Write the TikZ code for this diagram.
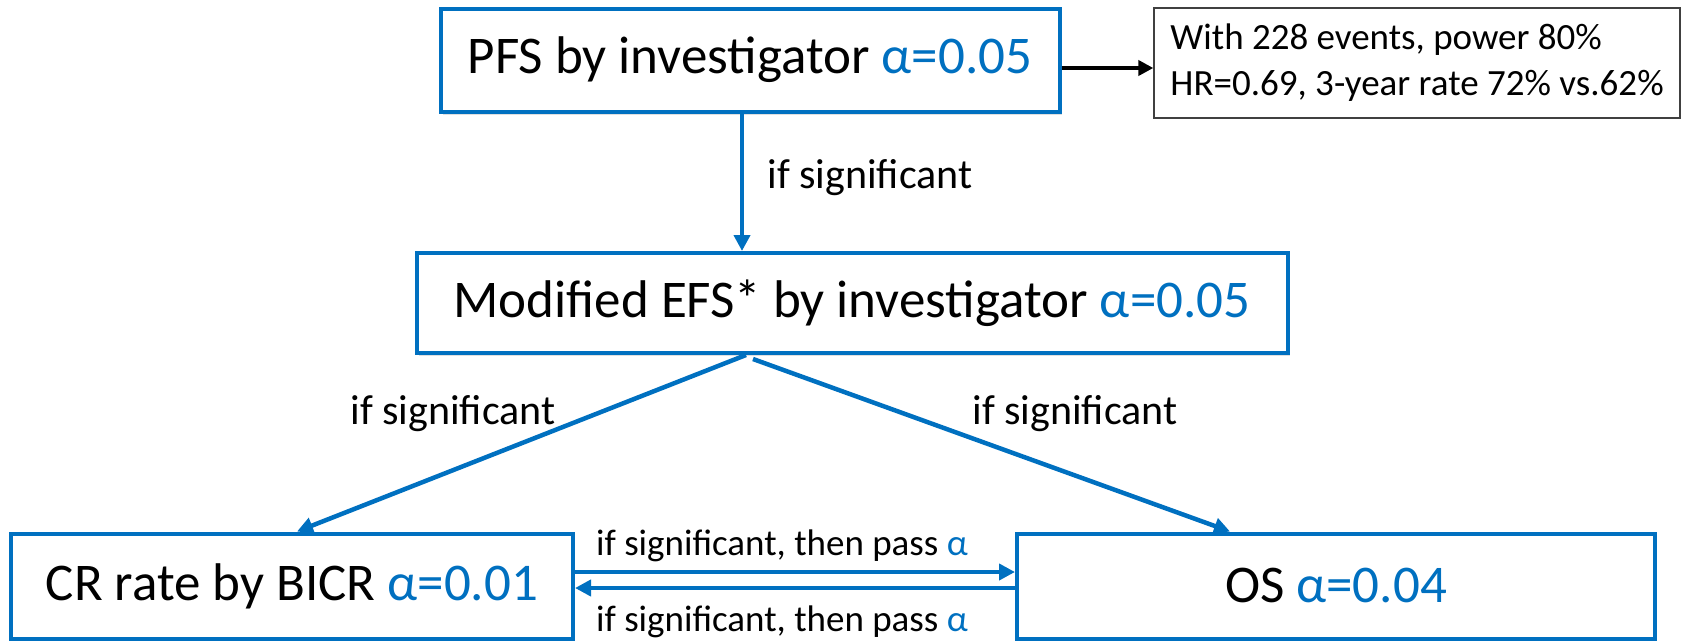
\documentclass[tikz,border=0pt]{standalone}
\usepackage{fontspec}
\setmainfont{Carlito}
\usetikzlibrary{arrows.meta,shadows}
\definecolor{ppblue}{HTML}{0070C0}
\newcommand{\alp}[1]{\textcolor{ppblue}{α=#1}}
\begin{document}
\begin{tikzpicture}[x=1pt,y=-1pt,
  bluebox/.style={draw=ppblue, line width=4pt, fill=white, inner sep=0pt,
    font=\fontsize{53}{62}\selectfont,
    drop shadow={opacity=0.25, shadow xshift=2pt, shadow yshift=-3pt}},
  bluearrow/.style={draw=ppblue, line width=4.5pt, -{Triangle[length=16pt,width=16pt]}},
  blackarrow/.style={draw=black, line width=4pt, -{Triangle[length=15pt,width=15pt]}},
  lbl/.style={font=\fontsize{42}{50}\selectfont, inner sep=0pt},
  passlbl/.style={font=\fontsize{37}{44}\selectfont, inner sep=0pt}]
\useasboundingbox (0,0) rectangle (1696,640);
% boxes
\node[bluebox, minimum width=619pt, minimum height=103pt] (pfs) at (750,60) {PFS by investigator \alp{0.05}};
\node[draw=black!75, line width=1.3pt, fill=white, inner sep=0pt, align=left,
  minimum width=526pt, minimum height=110pt,
  font=\fontsize{37}{46}\selectfont] (info) at (1417,63)
  {With 228 events, power 80\%\\HR=0.69, 3-year rate 72\% vs.62\%};
\node[bluebox, minimum width=871pt, minimum height=100pt] (efs) at (852,303) {Modified EFS* by investigator \alp{0.05}};
\node[bluebox, minimum width=562pt, minimum height=105pt] (cr) at (292,586) {CR rate by BICR \alp{0.01}};
\node[bluebox, minimum width=638pt, minimum height=105pt] (os) at (1336,586) {OS \alp{0.04}};
% connectors
\draw[blackarrow] ([yshift=-8pt]pfs.east) -- ([yshift=-8pt]pfs.east -| info.west);
\draw[bluearrow] ([xshift=-8pt]pfs.south) -- ([xshift=-8pt]pfs.south |- efs.north);
\coordinate (splitl) at ([xshift=-106pt]efs.south);
\coordinate (splitr) at ([xshift=-99pt,yshift=-4pt]efs.south);
\draw[bluearrow] (splitl) -- ([xshift=5pt]cr.north);
\draw[bluearrow] (splitr) -- ([xshift=-106pt]os.north);
\draw[bluearrow] ([yshift=14pt]cr.east) -- ([yshift=14pt]cr.east -| os.west);
\draw[bluearrow] ([yshift=-2pt]os.west) -- ([yshift=-2pt]os.west -| cr.east);
% labels
\node[lbl] (l1) at (870,178) {if significant};
\node[lbl] (l2) at (453,414) {if significant};
\node[lbl] (l3) at (1075,414) {if significant};
\node[passlbl] (p1) at (782,546) {if significant, then pass \textcolor{ppblue}{α}};
\node[passlbl] (p2) at (782,622) {if significant, then pass \textcolor{ppblue}{α}};
\end{tikzpicture}
\end{document}
